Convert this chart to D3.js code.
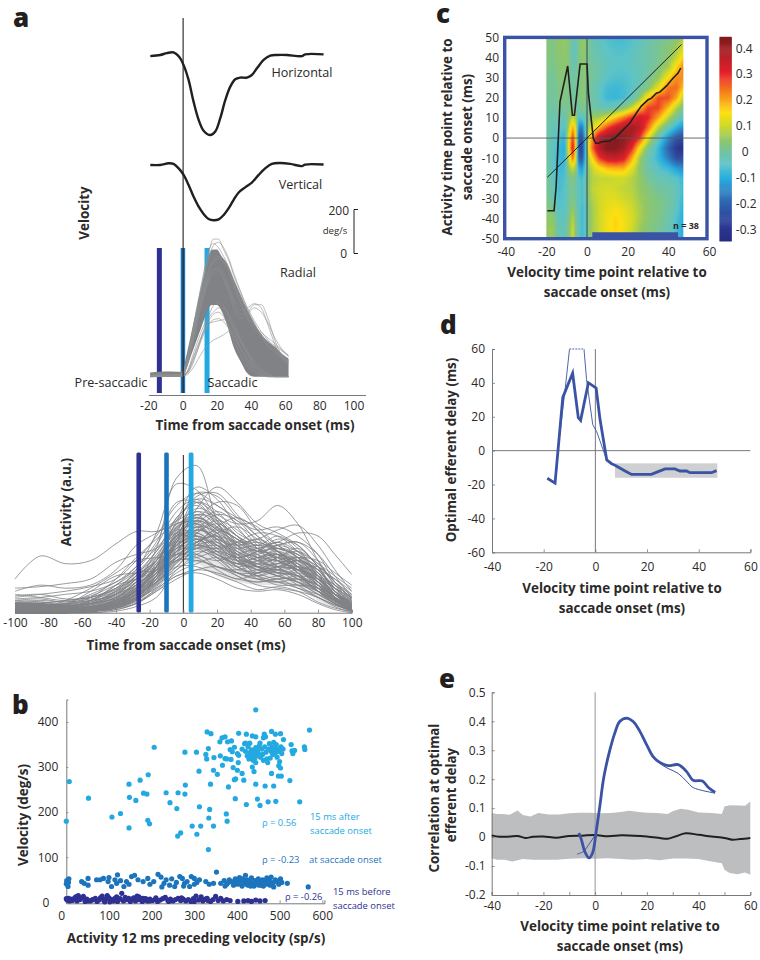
<!DOCTYPE html>
<html><head><meta charset="utf-8">
<script src="https://d3js.org/d3.v7.min.js"></script>
<style>html,body{margin:0;padding:0;background:#fff}svg{display:block}text{font-family:"Open Sans",sans-serif}</style>
</head><body><svg id="c" width="760" height="960"></svg>
<script>
// ---------- data ----------
const hMs=[-18.9,-13.1,-9.2,-5.3,-1.8,0.6,3.5,6.4,9.4,12.3,16.2,19.1,22,25,27.9,30.8,33.7,37.6,40.5,43.5,47.4,51.3,55.2,61,69.8,71.7,82.5];
const hVal=[-5,0,9,12,-11,-47,-116,-217,-302,-352,-372,-356,-295,-209,-147,-113,-105,-105,-93,-62,-23,-3,0,0,-5,3,3];
const vMs=[-18.9,-13.1,-8.2,-5.3,-2.3,0.6,3.5,6.4,9.4,12.3,15.2,18.1,21.1,24,26.9,29.8,32.7,36.6,40.5,44.4,48.3,52.2,57.1,63,69.8,71.7,82.5];
const vVal=[0,0,8,5,-16,-46,-93,-147,-194,-228,-251,-257,-253,-233,-202,-163,-129,-104,-82,-47,-16,5,9,5,-5,2,2];
const radMs=[-19,-10,-3,0,2,5,8,11,14,17,20,23,26,30,34,38,42,46,50,54,58,62];
const radHigh=[19,24,23,24,90,200,310,420,520,590,592,558,527,450,380,310,248,200,163,140,108,85];
const radLow=[0,0,0,0,30,100,165,230,295,333,333,302,240,135,70,15,0,0,0,0,0,0];
const radKnots=[-19,-10,-3,0,3,6,9,12,15,18,21,24,27,30,34,38,42,46,50,54,58,62];
const radLines=[
[10,12,12,14,100,220,350,460,570,640,640,590,540,470,390,320,260,210,170,130,100,75],
[6,8,10,12,95,210,330,440,540,610,625,600,550,480,395,315,250,190,150,120,90,70],
[4,6,8,10,95,215,340,470,580,620,600,560,510,450,370,300,240,190,140,110,90,60],
[0,2,2,3,12,40,80,120,150,170,182,195,210,205,160,100,50,20,5,0,0,0],
[0,2,3,5,20,70,130,190,240,265,270,255,225,190,130,80,40,15,0,0,0,0],
[0,1,2,4,22,80,140,200,255,290,300,280,235,170,100,50,20,5,0,0,0,0],
[1,3,3,6,30,100,170,230,280,330,345,330,280,215,130,70,30,10,0,0,0,0],
[0,1,2,4,18,60,130,210,270,300,320,320,290,250,170,110,60,30,10,0,0,0],
[0,2,2,4,26,85,150,205,245,255,260,265,262,230,170,120,70,35,14,0,0,0],
[2,4,5,8,70,170,280,370,450,490,510,480,420,360,310,320,340,320,240,150,90,55],
[1,3,4,7,65,160,270,360,440,470,490,460,410,340,290,300,335,335,270,170,100,70],
[3,4,5,8,70,175,290,380,460,500,500,450,390,320,270,290,320,300,250,180,130,95],
[2,4,5,8,80,190,310,410,490,540,560,540,500,430,350,280,235,205,180,155,125,100],
[2,3,4,7,75,180,300,400,480,530,550,530,490,420,340,270,220,190,165,145,120,95]];
const actKnots=[-100,-85,-70,-55,-40,-28,-16,-4,8,20,32,44,56,68,80,90,100];
const actLines=[
[22,37,32,34,45,53,53,58,62,55,48,40,42,36,22,14,9],[5,4,6,8,12,20,42,88,96,60,38,30,28,24,14,8,3],
[6,5,4,7,14,28,52,84,80,62,50,44,50,42,24,12,5],[4,3,5,8,16,26,40,62,72,64,58,60,70,58,34,18,8],
[3,2,3,6,12,22,38,52,58,52,46,48,54,57,44,28,14],[8,9,7,12,20,28,44,66,74,60,50,44,46,52,50,38,25],
[0,0,0,0,2,6,14,24,26,22,16,14,15,12,6,2,0],[1,0,1,2,5,10,20,30,30,25,20,15,17,14,7,3,1],
[2,1,2,4,8,14,24,40,42,34,24,20,22,16,10,5,2],[9,10,12,14,20,30,42,58,78,76,62,50,42,38,26,16,10],
[10,12,14,17,22,34,50,70,78,70,62,56,44,36,22,12,6],[14,18,16,18,28,44,52,60,66,62,50,38,34,32,24,16,10],
[16,17,19,22,33,38,42,55,62,56,48,42,36,30,20,12,7],[4,4,5,10,22,36,48,60,76,78,64,50,40,34,24,12,4],
[3,2,4,8,18,30,46,72,72,58,44,34,30,28,18,10,4],[2,2,3,6,14,20,34,50,64,58,42,36,38,32,20,9,3],
[1,1,2,5,12,24,34,48,54,50,40,34,30,34,28,14,6],[0,1,3,8,18,26,30,44,50,44,36,30,26,24,16,8,2],
[1,2,5,14,24,26,28,36,46,50,44,36,28,20,12,6,2],[3,3,8,16,26,34,36,38,44,40,30,26,30,30,20,10,5],
[2,1,2,4,10,18,30,46,58,66,58,44,34,24,14,7,3],[1,0,1,3,8,14,26,44,60,72,70,54,44,36,26,14,6],
[0,0,1,2,6,14,28,54,68,62,46,40,44,46,34,18,8],[2,1,1,3,8,16,30,56,64,50,38,32,32,36,30,20,11],
[5,4,3,5,10,20,34,50,52,44,32,30,36,40,32,20,12],[6,7,6,8,12,22,32,42,48,40,36,40,48,44,30,16,6],
[1,0,0,1,4,12,24,40,56,52,34,22,20,22,18,12,7],[0,0,0,1,3,8,18,34,44,46,36,24,18,18,16,8,2],
[1,1,0,1,3,6,16,30,40,36,26,22,24,26,20,8,1],[2,2,1,2,4,10,22,38,36,28,22,26,32,28,16,6,1],
[3,2,3,4,6,12,22,44,50,40,28,28,34,36,24,10,3],[4,5,5,6,10,18,28,36,52,60,54,42,30,22,16,10,5],
[7,8,7,9,14,24,40,52,46,38,34,32,26,18,10,4,0],[11,12,9,10,16,26,36,50,60,54,40,30,24,20,12,6,2],
[3,3,4,7,13,22,34,60,82,74,56,42,36,26,14,6,1],[2,1,3,6,11,18,30,46,68,82,72,58,52,44,30,14,4],
[1,2,2,4,9,17,30,52,74,70,60,54,56,50,38,20,9],[5,6,8,10,15,24,34,48,56,48,44,48,40,30,18,8,2],
[3,3,3,5,10,16,26,42,48,38,32,30,28,30,26,18,10],[0,0,1,3,7,14,22,36,42,44,40,34,34,28,20,10,3],
[1,1,2,3,7,12,20,34,38,30,28,32,38,32,18,7,2],[2,3,4,6,9,14,24,46,60,52,36,28,26,30,24,12,4],
[4,3,2,3,6,12,24,50,66,56,44,38,30,22,14,8,4],[8,7,5,6,12,18,30,58,58,46,42,44,40,32,22,12,5],
[2,2,1,2,6,14,30,62,70,58,48,42,46,40,28,16,7],[1,0,0,2,6,12,22,40,52,58,50,40,36,34,28,22,14],
[0,0,0,0,1,4,10,28,34,30,24,18,16,14,10,5,1],[6,5,3,4,8,16,26,40,44,36,30,34,42,38,24,12,5],
[3,2,2,3,5,10,20,32,46,50,38,30,26,24,18,9,3],[0,1,1,2,4,9,20,38,54,48,34,28,30,28,22,14,6],
[1,3,6,10,16,22,30,44,54,48,42,36,34,26,16,8,2],[12,10,8,11,18,22,28,46,52,42,34,36,40,34,20,10,3],
[1,1,1,2,5,12,26,48,62,54,46,40,38,30,18,8,2],[0,0,1,3,8,16,24,42,56,44,36,40,46,36,22,10,3],
[2,1,0,1,4,11,22,52,58,46,38,32,36,42,30,14,5],[3,4,3,3,7,15,28,38,46,54,48,36,26,28,30,20,9],
[1,0,0,1,5,10,24,44,50,42,30,24,28,34,24,12,6],[0,0,0,1,3,9,20,46,64,60,44,30,24,20,14,9,4],
[4,3,2,2,5,13,30,54,50,38,32,36,38,26,14,6,2],[2,2,2,4,7,14,26,36,42,48,44,46,40,30,20,12,7],
[1,1,1,3,9,20,36,56,60,48,34,26,22,24,22,16,8],[0,0,0,2,6,16,32,50,48,36,26,24,30,34,28,16,6],
[3,2,1,2,4,8,18,28,38,42,34,28,24,20,16,12,8],[5,3,2,3,5,11,22,34,34,30,26,26,28,24,14,6,1],
[1,2,1,1,3,7,15,26,32,36,30,24,20,16,12,8,4],[2,1,1,2,6,15,28,42,46,52,56,48,38,28,18,8,2],
[0,1,0,1,4,10,24,48,72,66,52,46,42,38,30,22,12],[3,3,2,4,8,18,34,46,44,42,46,52,50,40,26,12,3],
[1,0,1,2,5,13,28,44,38,34,38,42,44,40,32,24,16],[0,0,1,2,7,15,26,34,36,40,36,30,32,36,34,26,18],
[2,1,2,3,6,14,30,40,54,64,60,46,34,28,24,18,10],[1,1,0,2,5,12,20,30,44,56,62,54,40,30,22,12,5],
[4,2,1,2,4,9,16,24,28,26,22,20,22,22,18,10,3],[0,0,0,1,2,6,14,22,28,30,26,22,20,18,14,9,5],
[2,2,1,1,3,8,17,33,42,38,32,34,36,30,20,10,2],[1,1,1,2,4,9,19,36,48,44,38,38,44,46,38,24,10]];
const actBandLow=[0,0,0,0,3,8,18,32,32,24,20,18,18,16,8,3,0];
const actBandHigh=[7,7,6,8,16,26,38,58,64,56,46,42,42,36,24,14,8];
const actWedgeMs=[-100,-85,-70,-55,-48];
const actWedge=[7,6.5,5,2,0];

const after15=[[0,180],[7,268],[52,231],[107,189],[127,197],[147,262],[148,233],[147,165],[163,226],[173,271],[181,242],[189,240],[192,283],[191,182],[195,174],[206,344],[234,243],[243,221],[259,208],[262,243],[278,240],[279,260],[278,333],[261,147],[268,154],[295,169],[305,333],[306,151],[311,291],[312,212],[315,169],[333,117],[334,187],[336,206],[338,262],[345,169],[345,293],[354,284],[330,378],[339,374],[333,341],[327,328],[329,318],[346,321],[361,325],[366,304],[360,356],[365,365],[372,367],[378,356],[387,358],[372,319],[376,318],[386,317],[375,196],[377,180],[380,256],[396,230],[394,272],[397,274],[391,299],[401,293],[403,310],[412,286],[416,271],[422,217],[444,262],[448,229],[454,215],[466,258],[473,223],[486,258],[491,224],[504,280],[497,280],[524,270],[547,223],[498,303],[502,298],[481,286],[444,427],[570,382],[558,345],[559,339],[527,350],[529,336],[531,330],[535,337],[404,375],[422,373],[436,369],[444,367],[464,373],[467,367],[481,379],[490,373],[502,374],[509,361],[420,353],[430,353],[454,353],[452,346],[384,339],[389,334],[394,344],[401,330],[404,326],[412,340],[418,352],[420,335],[424,325],[426,345],[428,318],[430,332],[432,322],[434,338],[436,328],[438,315],[440,334],[442,320],[444,343],[446,326],[448,336],[450,330],[455,322],[458,340],[460,328],[462,315],[465,345],[468,333],[472,310],[474,340],[476,352],[478,320],[480,335],[482,345],[484,328],[486,355],[488,340],[490,332],[492,350],[494,322],[496,340],[498,335],[500,312],[503,345],[505,330],[508,340],[436,300],[440,290],[444,310],[470,318],[462,365]];
const atOnset=[[1,48],[0,41],[4,35],[6,52],[5,44],[36,46],[42,42],[51,53],[51,38],[71,50],[79,50],[87,53],[98,46],[106,35],[114,50],[120,61],[118,42],[127,48],[135,35],[141,46],[153,57],[160,60],[168,50],[180,46],[191,53],[205,46],[215,62],[222,56],[224,34],[234,50],[242,38],[254,35],[266,57],[272,53],[277,42],[293,57],[300,53],[289,35],[312,50],[327,46],[352,67],[335,40],[345,42],[362,42],[370,48],[376,40],[382,50],[372,36],[380,44],[388,46],[392,38],[396,52],[400,46],[402,40],[406,55],[410,48],[412,36],[416,44],[420,60],[424,50],[426,38],[430,46],[434,54],[436,42],[440,36],[442,48],[446,44],[450,52],[452,38],[456,46],[460,50],[462,36],[466,44],[470,54],[472,40],[476,48],[480,56],[484,42],[486,34],[490,50],[494,46],[498,40],[502,52],[505,44],[518,42],[567,34],[395,42],[405,44],[414,52],[422,40],[432,36],[444,40],[458,38],[468,48],[478,38],[488,46],[306,44],[300,40],[283,46],[275,36],[258,44],[247,52],[229,42],[196,40],[147,40],[100,55]];
const before15=[[0,8],[2,5],[5,9],[8,3],[10,7],[14,4],[18,8],[22,12],[25,3],[28,15],[32,6],[36,10],[40,13],[44,2],[48,7],[56,3],[62,6],[68,9],[72,2],[76,5],[80,10],[84,14],[88,4],[92,7],[96,15],[102,1],[106,6],[110,3],[114,9],[118,12],[122,5],[126,8],[130,20],[134,3],[138,11],[142,6],[146,9],[150,4],[154,7],[158,10],[162,3],[166,14],[170,6],[174,9],[178,2],[182,5],[186,8],[190,3],[196,7],[202,4],[208,6],[214,2],[220,5],[226,8],[232,11],[238,4],[244,7],[250,3],[256,6],[262,9],[268,4],[274,7],[280,3],[286,6],[292,2],[298,8],[304,14],[310,5],[316,12],[320,3],[326,7],[332,4],[338,2],[344,6],[350,13],[356,4],[362,9],[368,3],[376,6],[384,4],[402,2],[416,3],[426,4],[434,2],[444,5],[454,3],[466,4],[150,2],[170,12],[100,10],[60,5],[120,2],[210,10],[240,2],[270,10],[300,2],[330,9],[50,3],[90,1],[180,9],[195,3]];

const heatCols=[-20,-17,-14,-11,-9,-7,-5.5,-4,-2.5,-1,1,3,6,10,14,18,22,26,30,35,40,44,47];
const heatRows=[50,45,40,35,30,25,20,15,10,5,0,-5,-10,-15,-20,-25,-30,-35,-40,-45,-50];
const heat=[
[.03,.02,.04,.05,.03,-.01,-.02,.02,.045,.045,.01,-.03,-.04,-.06,-.07,-.07,-.06,-.04,-.02,0,.02,.04,.07],
[.03,.02,.04,.05,.03,-.03,-.03,.02,.045,.045,.01,-.02,-.03,-.05,-.06,-.06,-.05,-.03,-.01,.01,.03,.06,.10],
[.03,.02,.04,.04,.03,-.03,-.02,.02,.04,.04,.01,-.01,-.02,-.04,-.05,-.05,-.04,-.02,-.01,.01,.04,.09,.16],
[.02,.01,.03,.04,.03,-.02,-.01,.02,.035,.035,.01,0,-.01,-.04,-.05,-.05,-.04,-.03,-.01,.02,.07,.16,.22],
[.02,0,.03,.03,.02,-.01,0,.02,.03,.03,.01,0,-.02,-.05,-.06,-.06,-.05,-.03,0,.05,.15,.22,.22],
[.02,0,.02,.03,.02,0,0,.02,.03,.03,.01,-.01,-.04,-.07,-.08,-.07,-.05,-.02,.03,.12,.24,.25,.18],
[.01,0,.02,.02,.02,0,0,.02,.03,.03,0,-.01,-.04,-.08,-.085,-.07,-.04,.05,.16,.27,.27,.20,.10],
[.01,-.01,.01,.01,.01,.02,0,0,.02,.02,0,0,-.02,-.03,-.01,.03,.10,.18,.28,.28,.18,.08,.02],
[0,-.02,-.01,-.03,.03,.1,.06,-.06,-.05,-.02,.03,.06,.07,.12,.18,.24,.30,.34,.30,.20,.08,.0,-.04],
[0,-.03,-.03,-.06,.08,.2,.12,-.15,-.17,-.06,.08,.12,.20,.28,.34,.38,.40,.36,.24,.08,-.03,-.10,-.14],
[0,-.03,-.06,-.09,.13,.28,.15,-.22,-.24,-.09,.14,.24,.36,.42,.43,.42,.38,.28,.12,-.03,-.14,-.22,-.25],
[0,-.04,-.08,-.10,.14,.32,.16,-.25,-.27,-.1,.16,.26,.38,.43,.43,.40,.30,.14,.02,-.08,-.20,-.29,-.31],
[0,-.04,-.08,-.09,.1,.24,.11,-.2,-.23,-.09,.1,.17,.28,.34,.35,.32,.20,.06,-.02,-.08,-.16,-.24,-.24],
[0,-.04,-.08,-.07,.05,.1,.05,-.1,-.13,-.05,.06,.10,.14,.18,.19,.19,.12,.04,-.01,-.05,-.08,-.12,-.14],
[.01,-.03,-.07,-.06,0,.03,0,-.05,-.07,-.03,.05,.08,.09,.09,.10,.10,.08,.05,.01,-.02,-.03,-.05,-.08],
[.01,-.02,-.07,-.05,-.01,.02,-.01,-.04,-.06,-.03,.06,.09,.10,.11,.10,.09,.08,.05,.03,0,-.01,-.03,-.07],
[.02,-.01,-.06,-.05,-.01,.03,-.01,-.04,-.06,-.04,.05,.08,.10,.12,.12,.10,.09,.06,.04,.02,0,-.03,-.08],
[.03,.02,-.05,-.05,0,.05,0,-.04,-.07,-.05,.04,.07,.10,.13,.14,.13,.10,.07,.04,.02,0,-.04,-.09],
[.04,.05,-.03,-.04,.02,.08,.02,-.04,-.07,-.05,.04,.07,.10,.14,.16,.14,.11,.07,.04,.02,-.01,-.06,-.10],
[.05,.06,-.02,-.03,.03,.1,.03,-.04,-.07,-.05,.04,.07,.10,.14,.16,.14,.10,.06,.03,.01,-.02,-.07,-.10],
[.05,.06,-.02,-.03,.03,.1,.03,-.04,-.07,-.05,.03,.06,.09,.13,.15,.13,.09,.05,.02,0,-.02,-.07,-.10]];
const colorStops=[-.344,-.3,-.25,-.2,-.15,-.1,-.05,0,.05,.1,.15,.2,.25,.3,.35,.4,.442];
const colorVals=["#2a2d82","#2b3590","#2f4a9e","#2f63ae","#2f85c4","#29b0e0","#5cc3c8","#74c4a0","#93c763","#cfd92c","#fde010","#f9a51a","#f26a21","#e8202a","#c4202a","#9e1f24","#7d1a1d"];
const cPathX=[-19.5,-16.2,-15.2,-13.3,-9.5,-7.2,-6.2,-3.4,0,0.7,3.1,4.3,5.6,7.2,11.3,12.1,13.8,17,21,24.2,26.7,30,31.6,34.1,35.8,39.1,42.4,44.8,46.1];
const cPathY=[-36.1,-36.1,-24.2,18,35.8,11.3,11.3,36.8,36.8,22.2,-0.2,-2.6,-2.6,-1.8,-1.5,-0.7,0,3.3,7.3,12.3,15.9,19,19.7,22.3,22.8,25.9,29.8,32.3,34.8];
const identity=[-19.5,46.5];
const blueBar=[2.6,44.8];
const dX=[-18.6,-15.6,-12.6,-8.8,-6.6,-5.7,-2.7,0.3,1.8,4.4,6.3,7.6,11.5,14,21.7,24.3,27,30.8,32.7,35.3,36.6,45,46.9];
const dY=[-16.3,-19.2,31.4,45.7,19.5,17.9,40.1,37,18.5,-5.5,-7.7,-8.6,-12,-14,-14,-12.4,-10.8,-10.8,-12,-12,-13,-13,-11.8];
const dThinX=[-15.6,-14.3,-11.7,-10,-4.4,-3.4,-1,0.5,4.4];
const dThinY=[-19.2,2.8,36.2,60,60,41.9,15.3,11.3,-5.5];
const dDash=[-10,-4.4];
const dBoxX=[7.6,47.2];
const dBoxY=[-7.5,-16];
const eX=[-6.3,-5.3,-4,-2.3,-1,0.5,1.8,3.4,5.7,7.6,9.5,12.1,14.7,17.3,19.9,22.4,25,28.2,32.1,35.3,37.9,41.5,43.7,46.4];
const eY=[.014,-.009,-.05,-.072,-.055,.025,.106,.209,.301,.359,.399,.411,.399,.365,.319,.278,.258,.247,.25,.227,.196,.194,.172,.154];
const eThinX=[-7,-4.6,-2.1,-0.1,1.2,3.1,5.7,7.6,9.5,12.1,14.7,17.3,19.9,22.4,25,28.2,32.1,35.3,37.9,46.4];
const eThinY=[-.059,-.05,-.021,.008,.071,.198,.295,.355,.397,.409,.397,.363,.317,.276,.254,.237,.22,.193,.171,.152];
const nullX=[-40,-37,-33,-30,-27,-24,-20,-15,-10,-5,0,5,10,15,20,25,28,31,35,40,45,50,53,56,60];
const nullY=[.006,.001,.002,.004,-.003,.001,.002,-.002,.004,.005,.007,.003,.006,.005,.002,-.003,-.006,.002,.013,.008,.002,-.003,-.009,-.007,-.003];
const bandUpX=[-40,-38,-36,-33,-30,-28,-25,-22,-18,-14,-10,-6,-2,2,6,10,13,17,20,24,28,30,33,36,40,45,49,50,52,56,58,60];
const bandUp=[.083,.08,.08,.077,.092,.076,.071,.083,.078,.078,.082,.084,.084,.082,.083,.087,.091,.087,.084,.083,.08,.089,.098,.094,.085,.083,.08,.106,.11,.109,.108,.123];
const bandLoX=[-40,-38,-35,-32,-28,-24,-20,-15,-10,-5,0,5,10,15,20,25,30,35,40,45,49,50,52,55,58,60];
const bandLo=[-.073,-.078,-.078,-.084,-.076,-.078,-.078,-.078,-.075,-.073,-.075,-.073,-.076,-.078,-.076,-.08,-.074,-.074,-.076,-.084,-.09,-.113,-.124,-.128,-.122,-.13];

// ---------- helpers ----------
const INK="#2b2a29",GRAY="#808285",AX="#77787b",DARK="#2e3192",MID="#1c75bc",CYAN="#22a9e1",BLUE="#3a53a4";
const FONT='"Open Sans",sans-serif';
const svg=d3.select("#c");
const plain=d=>String(d);
function txt(x,y,s,o={}){const t=svg.append("text").attr("x",x).attr("y",y).text(s)
 .attr("font-size",o.size||12).attr("font-weight",o.bold?700:400).attr("fill",o.fill||INK)
 .attr("text-anchor",o.anchor||"middle").attr("dominant-baseline","central").style("font-family",FONT);
 if(o.rot)t.attr("transform",`rotate(${o.rot} ${x} ${y})`);return t;}
function sty(g,size=12){g.selectAll("text").attr("font-size",size).attr("fill",INK).style("font-family",FONT);
 g.selectAll("path.domain").attr("stroke",AX).attr("stroke-width",1);g.selectAll(".tick line").attr("stroke",AX).attr("stroke-width",.8);return g;}
const lineXY=(xs,x,y,c=d3.curveLinear)=>d3.line().x((d,i)=>x(xs[i])).y(d=>y(d)).curve(c);
const TITLE=13.4,TICK=12;

// ---------- panel a top ----------
const xA=d3.scaleLinear().domain([0,100]).range([182.6,353.5]);
const velPx=d3.scaleLinear().domain([0,200]).range([0,-43]);
const yOff=b=>v=>b+velPx(v);
svg.append("path").datum(hVal).attr("d",lineXY(hMs,xA,yOff(55),d3.curveCatmullRom)).attr("fill","none").attr("stroke","#231f20").attr("stroke-width",2.4);
svg.append("path").datum(vVal).attr("d",lineXY(vMs,xA,yOff(165),d3.curveCatmullRom)).attr("fill","none").attr("stroke","#231f20").attr("stroke-width",2.4);
const yR=yOff(376.7);
[[-13.6,DARK,5],[0.2,MID,4.5],[14.3,CYAN,5]].forEach(b=>svg.append("rect").attr("x",xA(b[0])-b[2]/2).attr("width",b[2]).attr("y",248).attr("height",145).attr("fill",b[1]));
svg.append("path").datum(radHigh).attr("fill",GRAY)
 .attr("d",d3.area().x((d,i)=>xA(radMs[i])).y1(d=>yR(d)).y0((d,i)=>yR(radLow[i])).curve(d3.curveMonotoneX));
svg.append("g").selectAll("path").data(radLines).join("path").attr("fill","none").attr("stroke","#8e9092").attr("stroke-width",.6)
 .attr("d",lineXY(radKnots,xA,yR,d3.curveMonotoneX));
svg.append("line").attr("x1",xA(0.3)).attr("x2",xA(0.3)).attr("y1",18).attr("y2",393).attr("stroke","#231f20").attr("stroke-width",1.1);
const axA=d3.axisBottom(xA.copy().domain([-20,107]).range([xA(-20),xA(107)])).tickValues(d3.range(-20,101,20)).tickSize(0).tickPadding(6).tickFormat(plain);
sty(svg.append("g").attr("transform","translate(0,395)").call(axA),TICK);
txt(302,72,"Horizontal",{size:12.6});txt(300.5,184,"Vertical",{size:12.6});txt(298,272,"Radial",{size:12.6});
txt(349,210,"200",{size:12,anchor:"end"});txt(335,230,"deg/s",{size:9.6});txt(347,253,"0",{size:12,anchor:"end"});
svg.append("path").attr("d","M358,209.5H354V253.5H358").attr("fill","none").attr("stroke","#231f20").attr("stroke-width",1);
txt(111,382,"Pre-saccadic",{size:12.6});txt(232.5,382,"Saccadic",{size:12.6});
txt(84,213,"Velocity",{size:TITLE,bold:1,rot:-90});
txt(255,425,"Time from saccade onset (ms)",{size:TITLE,bold:1});

// ---------- panel a bottom ----------
const xT=d3.scaleLinear().domain([-100,100]).range([15,351.7]);
const yT=d3.scaleLinear().domain([0,100]).range([612.7,459.5]);
svg.append("path").datum(actBandHigh).attr("fill",GRAY).attr("opacity",.2)
 .attr("d",d3.area().x((d,i)=>xT(actKnots[i])).y1(d=>yT(d)).y0((d,i)=>yT(actBandLow[i])).curve(d3.curveCatmullRom));
svg.append("path").datum(actWedge).attr("fill",GRAY)
 .attr("d",d3.area().x((d,i)=>xT(actWedgeMs[i])).y1(d=>yT(d)).y0(yT(0)));
svg.append("g").selectAll("path").data(actLines).join("path").attr("fill","none").attr("stroke",GRAY).attr("stroke-width",.8)
 .attr("d",d=>lineXY(actKnots,xT,v=>yT(Math.max(0,v)),d3.curveCatmullRom)(d));
[[-26.5,DARK,4.6],[-10,MID,4.6],[4.6,CYAN,4.8]].forEach(b=>svg.append("rect").attr("x",xT(b[0])-b[2]/2).attr("width",b[2]).attr("y",452.5).attr("height",160).attr("rx",1.5).attr("fill",b[1]));
svg.append("line").attr("x1",xT(0)).attr("x2",xT(0)).attr("y1",455).attr("y2",612.7).attr("stroke","#231f20").attr("stroke-width",1);
const axT=d3.axisBottom(xT).tickValues(d3.range(-100,101,20)).tickSize(-3).tickPadding(6).tickFormat(plain);
sty(svg.append("g").attr("transform","translate(0,612.7)").call(axT),TICK);
txt(65.7,502,"Activity (a.u.)",{size:TITLE,bold:1,rot:-90});
txt(186,645,"Time from saccade onset (ms)",{size:TITLE,bold:1});

// ---------- panel b ----------
const xB=d3.scaleLinear().domain([0,600]).range([66.3,322.3]);
const yB=d3.scaleLinear().domain([0,400]).range([902.3,722]);
const axBx=d3.axisBottom(xB.copy().domain([0,605]).range([xB(0),xB(605)])).tickValues(d3.range(0,601,100)).tickSize(-3).tickPadding(8).tickFormat(plain);
const gbx=sty(svg.append("g").attr("transform","translate(0,903.3)").call(axBx),TICK);
gbx.selectAll("text").filter(d=>d===0).attr("dx",-5);
const axBy=d3.axisLeft(yB.copy().domain([0,450]).range([yB(0),yB(450)])).tickValues(d3.range(0,401,100)).tickSize(-2).tickPadding(8).tickFormat(plain);
const gby=sty(svg.append("g").attr("transform","translate(66.3,0)").call(axBy),TICK);
gby.selectAll("text").filter(d=>d===0).attr("dx",-9);
[[after15,CYAN],[atOnset,MID],[before15,DARK]].forEach(s=>svg.append("g").selectAll("circle").data(s[0]).join("circle")
 .attr("cx",d=>xB(d[0])).attr("cy",d=>yB(d[1])).attr("r",2.6).attr("fill",s[1]));
txt(22.7,815,"Velocity (deg/s)",{size:TITLE,bold:1,rot:-90});
txt(196,937.7,"Activity 12 ms preceding velocity (sp/s)",{size:TITLE,bold:1});
const sm=9.4;
txt(262,822,"ρ = 0.56",{size:sm,anchor:"start",fill:CYAN});txt(310,816,"15 ms after",{size:sm,anchor:"start",fill:CYAN});txt(310,830,"saccade onset",{size:sm,anchor:"start",fill:CYAN});
txt(262,859,"ρ = -0.23",{size:sm,anchor:"start",fill:MID});txt(309,859,"at saccade onset",{size:sm,anchor:"start",fill:MID});
txt(285,896,"ρ = -0.26",{size:sm,anchor:"start",fill:DARK});txt(333,891,"15 ms before",{size:sm,anchor:"start",fill:DARK});txt(333,905,"saccade onset",{size:sm,anchor:"start",fill:DARK});

// ---------- panel c ----------
const xC=d3.scaleLinear().domain([-40,60]).range([505.7,709]);
const yC=d3.scaleLinear().domain([-50,50]).range([238.7,37.4]);
const color=d3.scaleLinear().domain(colorStops).range(colorVals).clamp(true);
const ci=d3.scaleLinear().domain(heatCols).range(d3.range(heatCols.length));
const ri=d3.scaleLinear().domain(heatRows).range(d3.range(heatRows.length));
const x0=xC(-20),x1=xC(47.2),y0=yC(50),y1=yC(-50),W=Math.round(x1-x0),H=Math.round(y1-y0);
const cv=document.createElement("canvas");cv.width=W;cv.height=H;const ctx=cv.getContext("2d");
for(let j=0;j<H;j++)for(let i=0;i<W;i++){
 const u=ci(xC.invert(x0+i+.5)),v=ri(yC.invert(y0+j+.5));
 const a=Math.min(Math.floor(u),heatCols.length-2),b=Math.min(Math.floor(v),heatRows.length-2),f=u-a,g=v-b;
 const z=heat[b][a]*(1-f)*(1-g)+heat[b][a+1]*f*(1-g)+heat[b+1][a]*(1-f)*g+heat[b+1][a+1]*f*g;
 ctx.fillStyle=color(z);ctx.fillRect(i,j,1,1);}
svg.append("image").attr("x",x0).attr("y",y0).attr("width",W).attr("height",H).attr("href",cv.toDataURL());
svg.append("line").attr("x1",xC(-40)).attr("x2",xC(60)).attr("y1",yC(0)).attr("y2",yC(0)).attr("stroke","#58595b").attr("stroke-width",.9);
svg.append("line").attr("x1",xC(0)).attr("x2",xC(0)).attr("y1",y0).attr("y2",y1).attr("stroke","#2b3a55").attr("stroke-width",.9);
svg.append("line").attr("x1",xC(identity[0])).attr("x2",xC(identity[1])).attr("y1",yC(identity[0])).attr("y2",yC(identity[1])).attr("stroke","#231f20").attr("stroke-width",1);
svg.append("path").datum(cPathY).attr("d",lineXY(cPathX,xC,yC)).attr("fill","none").attr("stroke","#231f20").attr("stroke-width",1.6);
svg.append("rect").attr("x",xC(blueBar[0])).attr("width",xC(blueBar[1])-xC(blueBar[0])).attr("y",yC(-46.8)).attr("height",yC(-50)-yC(-46.8)).attr("fill",BLUE);
svg.append("rect").attr("x",xC(-40)-1).attr("y",yC(50)).attr("width",xC(60)-xC(-40)-1).attr("height",yC(-50)-yC(50)).attr("fill","none").attr("stroke",BLUE).attr("stroke-width",3.4);
txt(686,225,"n = 38",{size:9,bold:1});
const axCx=d3.axisBottom(xC).tickValues(d3.range(-40,61,20)).tickSize(0).tickPadding(7).tickFormat(plain);
const gcx=sty(svg.append("g").attr("transform","translate(0,240)").call(axCx),TICK);gcx.select("path.domain").remove();
const axCy=d3.axisLeft(yC).tickValues(d3.range(-50,51,10)).tickSize(0).tickPadding(5).tickFormat(plain);
const gcy=sty(svg.append("g").attr("transform","translate(504,0)").call(axCy),TICK);gcy.select("path.domain").remove();
const yBar=d3.scaleLinear().domain([-.344,.442]).range([241,37.3]);
svg.append("g").selectAll("rect").data(d3.range(-.344,.442,.004)).join("rect").attr("x",719.5).attr("width",12.3)
 .attr("y",d=>yBar(d+.004)).attr("height",d=>yBar(d)-yBar(d+.004)+.5).attr("fill",d=>color(d));
const axBar=d3.axisRight(yBar).tickValues([-.3,-.2,-.1,0,.1,.2,.3,.4]).tickSize(0).tickPadding(4).tickFormat(d=>d===0?"0":d.toFixed(1));
const gbar=sty(svg.append("g").attr("transform","translate(731.8,0)").call(axBar),TICK);gbar.select("path.domain").remove();
gbar.selectAll("text").filter(d=>d===0).attr("dx",6);
txt(447,137,"Activity time point relative to",{size:TITLE,bold:1,rot:-90});
txt(467,137,"saccade onset (ms)",{size:TITLE,bold:1,rot:-90});
txt(607,272,"Velocity time point relative to",{size:TITLE,bold:1});
txt(607,292,"saccade onset (ms)",{size:TITLE,bold:1});

// ---------- panel d ----------
const xD=d3.scaleLinear().domain([-40,60]).range([492,750.4]);
const yD=d3.scaleLinear().domain([-60,60]).range([552.3,349]);
svg.append("rect").attr("x",xD(dBoxX[0])).attr("width",xD(dBoxX[1])-xD(dBoxX[0])).attr("y",yD(dBoxY[0])).attr("height",yD(dBoxY[1])-yD(dBoxY[0])).attr("fill","#cfd0d2");
svg.append("line").attr("x1",xD(-40)).attr("x2",xD(60)).attr("y1",yD(0)).attr("y2",yD(0)).attr("stroke",AX);
svg.append("line").attr("x1",xD(0)).attr("x2",xD(0)).attr("y1",yD(60)).attr("y2",yD(-60)).attr("stroke",AX);
sty(svg.append("g").attr("transform","translate(0,552.3)").call(d3.axisBottom(xD).tickValues(d3.range(-40,61,20)).tickSize(-3).tickPadding(10).tickFormat(plain)),TICK);
sty(svg.append("g").attr("transform","translate(492,0)").call(d3.axisLeft(yD).tickValues(d3.range(-60,61,20)).tickSize(-3).tickPadding(7).tickFormat(plain)),TICK);
svg.append("path").datum(dThinY).attr("d",lineXY(dThinX,xD,yD)).attr("fill","none").attr("stroke",BLUE).attr("stroke-width",.9);
svg.append("line").attr("x1",xD(dDash[0])).attr("x2",xD(dDash[1])).attr("y1",yD(60)).attr("y2",yD(60)).attr("stroke","#fff").attr("stroke-width",1.5);
svg.append("line").attr("x1",xD(dDash[0])).attr("x2",xD(dDash[1])).attr("y1",yD(60)).attr("y2",yD(60)).attr("stroke",BLUE).attr("stroke-width",.8).attr("stroke-dasharray","1.5 1.5");
svg.append("path").datum(dY).attr("d",lineXY(dX,xD,yD)).attr("fill","none").attr("stroke",BLUE).attr("stroke-width",2.8);
txt(451,450,"Optimal efferent delay (ms)",{size:TITLE,bold:1,rot:-90});
txt(622,588,"Velocity time point relative to",{size:TITLE,bold:1});
txt(622,608,"saccade onset (ms)",{size:TITLE,bold:1});

// ---------- panel e ----------
const xE=d3.scaleLinear().domain([-40,60]).range([491.7,750.3]);
const yE=d3.scaleLinear().domain([-.2,.5]).range([895,692.3]);
const bandPts=bandUp.map((v,i)=>[bandUpX[i],v]).concat(bandLo.map((v,i)=>[bandLoX[i],v]).reverse());
svg.append("path").datum(bandPts).attr("fill","#bcbec0").attr("d",d3.line().x(d=>xE(d[0])).y(d=>yE(d[1])));
svg.append("line").attr("x1",xE(0)).attr("x2",xE(0)).attr("y1",yE(.5)).attr("y2",yE(-.2)).attr("stroke","#939598").attr("stroke-width",1);
sty(svg.append("g").attr("transform","translate(0,895)").call(d3.axisBottom(xE).tickValues(d3.range(-40,61,10)).tickSize(-3).tickPadding(6).tickFormat(d=>d%20===0?String(d):"")),TICK);
sty(svg.append("g").attr("transform","translate(491.7,0)").call(d3.axisLeft(yE).tickValues(d3.range(-.2,.51,.1)).tickSize(-3).tickPadding(6).tickFormat(d=>Math.abs(d)<.01?"0":d.toFixed(1))),TICK);
svg.append("path").datum(nullY).attr("d",lineXY(nullX,xE,yE,d3.curveCatmullRom)).attr("fill","none").attr("stroke","#231f20").attr("stroke-width",2);
svg.append("path").datum(eThinY).attr("d",lineXY(eThinX,xE,yE,d3.curveCatmullRom)).attr("fill","none").attr("stroke",BLUE).attr("stroke-width",1);
svg.append("path").datum(eY).attr("d",lineXY(eX,xE,yE,d3.curveCatmullRom)).attr("fill","none").attr("stroke",BLUE).attr("stroke-width",2.8);
txt(434,798,"Correlation at optimal",{size:TITLE,bold:1,rot:-90});
txt(451,795,"efferent delay",{size:TITLE,bold:1,rot:-90});
txt(620,926,"Velocity time point relative to",{size:TITLE,bold:1});
txt(620,946,"saccade onset (ms)",{size:TITLE,bold:1});

// ---------- panel letters ----------
[["a",13,27],["b",12,714],["c",436,23],["d",440,334],["e",439,688]].forEach(l=>
 svg.append("text").attr("x",l[1]).attr("y",l[2]).text(l[0]).attr("font-size",26).attr("font-weight",800).attr("fill","#231f20").style("font-family",FONT));
</script></body></html>
